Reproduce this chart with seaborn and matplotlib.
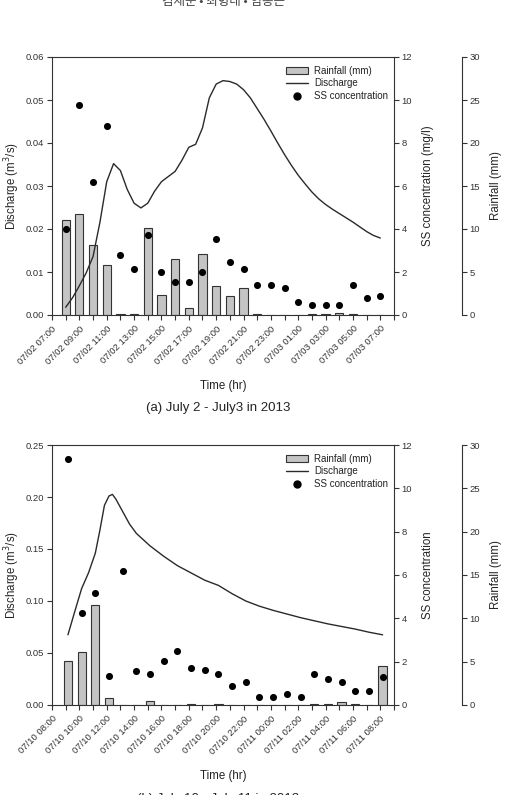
import matplotlib
matplotlib.use("Agg")
import matplotlib.pyplot as plt
import seaborn as sns
import pandas as pd
from matplotlib.patches import Patch
from matplotlib.lines import Line2D

# (a) July 2 - July 3, 2013 : hourly rainfall and SS, discharge every 30 min
a_start = "2013/07/02 07:00"
a_time = ["07/02 08:00", "07/02 09:00", "07/02 10:00", "07/02 11:00", "07/02 12:00",
          "07/02 13:00", "07/02 14:00", "07/02 15:00", "07/02 16:00", "07/02 17:00",
          "07/02 18:00", "07/02 19:00", "07/02 20:00", "07/02 21:00", "07/02 22:00",
          "07/02 23:00", "07/03 00:00", "07/03 01:00", "07/03 02:00", "07/03 03:00",
          "07/03 04:00", "07/03 05:00", "07/03 06:00", "07/03 07:00"]
a_rain = [11.1, 11.7, 8.1, 5.8, 0.1, 0.1, 10.1, 2.35, 6.55, 0.85, 7.1, 3.35,
          2.25, 3.1, 0.1, 0, 0, 0, 0.1, 0.1, 0.2, 0.15, 0, 0]
a_ss = [4.0, 9.78, 6.2, 8.8, 2.78, 2.16, 3.72, 2.0, 1.53, 1.53, 2.02, 3.55,
        2.45, 2.14, 1.41, 1.41, 1.26, 0.62, 0.48, 0.48, 0.48, 1.41, 0.79, 0.9]
a_q_time = pd.date_range("2013/07/02 08:00", "2013/07/03 07:00", freq="30min")
a_q = [0.0018, 0.0040, 0.0068, 0.0098, 0.0136, 0.0215, 0.0310, 0.0352, 0.0336,
       0.0292, 0.0260, 0.0249, 0.0260, 0.0288, 0.0310, 0.0322, 0.0334, 0.0360,
       0.0390, 0.0397, 0.0435, 0.0505, 0.0537, 0.0545, 0.0543, 0.0537, 0.0524,
       0.0505, 0.0480, 0.0455, 0.0428, 0.0400, 0.0373, 0.0348, 0.0325, 0.0305,
       0.0286, 0.0270, 0.0257, 0.0246, 0.0236, 0.0226, 0.0216, 0.0205, 0.0194,
       0.0185, 0.0179]
a_ticks = ["07/02 07:00", "07/02 09:00", "07/02 11:00", "07/02 13:00", "07/02 15:00",
           "07/02 17:00", "07/02 19:00", "07/02 21:00", "07/02 23:00", "07/03 01:00",
           "07/03 03:00", "07/03 05:00", "07/03 07:00"]

# (b) July 10 - July 11, 2013
b_start = "2013/07/10 08:00"
b_time = ["07/10 09:10", "07/10 10:10", "07/10 11:10", "07/10 12:10", "07/10 13:10",
          "07/10 14:10", "07/10 15:10", "07/10 16:10", "07/10 17:10", "07/10 18:10",
          "07/10 19:10", "07/10 20:10", "07/10 21:10", "07/10 22:10", "07/10 23:10",
          "07/11 00:10", "07/11 01:10", "07/11 02:10", "07/11 03:10", "07/11 04:10",
          "07/11 05:10", "07/11 06:10", "07/11 07:10", "07/11 08:10"]
b_rain = [5.1, 6.1, 11.5, 0.8, 0.05, 0, 0.43, 0.05, 0.05, 0.1, 0, 0.1,
          0, 0, 0, 0, 0, 0, 0.1, 0.1, 0.3, 0.1, 0, 4.5]
b_ss = [11.34, 4.26, 5.19, 1.33, 6.18, 1.56, 1.45, 2.02, 2.51, 1.73, 1.6, 1.42,
        0.9, 1.05, 0.38, 0.38, 0.52, 0.38, 1.44, 1.18, 1.04, 0.66, 0.66, 1.29]
b_q_time = ["07/10 09:10", "07/10 09:40", "07/10 10:10", "07/10 10:40", "07/10 11:10",
            "07/10 11:30", "07/10 11:50", "07/10 12:10", "07/10 12:25", "07/10 12:40",
            "07/10 13:10", "07/10 13:40", "07/10 14:10", "07/10 15:10", "07/10 16:10",
            "07/10 17:10", "07/10 18:10", "07/10 19:10", "07/10 20:10", "07/10 21:10",
            "07/10 22:10", "07/10 23:10", "07/11 00:10", "07/11 01:10", "07/11 02:10",
            "07/11 03:10", "07/11 04:10", "07/11 05:10", "07/11 06:10", "07/11 07:10",
            "07/11 08:10"]
b_q = [0.0675, 0.090, 0.112, 0.127, 0.146, 0.168, 0.192, 0.201, 0.2025, 0.198,
       0.186, 0.174, 0.165, 0.153, 0.143, 0.134, 0.127, 0.120, 0.115, 0.107,
       0.100, 0.095, 0.091, 0.0875, 0.084, 0.081, 0.078, 0.0755, 0.073, 0.070,
       0.0675]
b_ticks = ["07/10 08:00", "07/10 10:00", "07/10 12:00", "07/10 14:00", "07/10 16:00",
           "07/10 18:00", "07/10 20:00", "07/10 22:00", "07/11 00:00", "07/11 02:00",
           "07/11 04:00", "07/11 06:00", "07/11 08:00"]

sns.set_style("ticks")
plt.rcParams["font.family"] = ["Liberation Sans", "DejaVu Sans"]
plt.rcParams["axes.edgecolor"] = "#333333"
plt.rcParams["xtick.color"] = "#333333"
plt.rcParams["ytick.color"] = "#333333"
plt.rcParams["text.color"] = "#222222"

W, H = 506, 795
fig = plt.figure(figsize=(W / 100, H / 100), dpi=100)
BAR = "#c4c4c4"


def hours(t, start):
    t = pd.to_datetime(pd.Series(t).astype(str).radd("2013/") if isinstance(t[0], str) else pd.Series(t))
    return ((t - pd.Timestamp(start)) / pd.Timedelta(hours=1)).to_numpy()


def panel(top, bottom, start, t, rain, ss, qt, q, qmax, qstep, ss_lab, ticks, lab_y, cap, cap_y):
    l, r = 52, 394
    ax = fig.add_axes([l / W, 1 - bottom / H, (r - l) / W, (bottom - top) / H])
    ax_r = ax.twinx()
    ax_s = ax.twinx()
    ax_r.set_zorder(1)
    ax.set_zorder(2)
    ax_s.set_zorder(3)
    ax.patch.set_visible(False)

    h = hours(t, start)
    hq = hours(qt, start)
    sns.barplot(x=h, y=rain, native_scale=True, width=0.6, color=BAR, saturation=1,
                edgecolor="#333333", linewidth=0.8, errorbar=None, ax=ax_r)
    sns.lineplot(x=hq, y=q, color="#2a2a2a", linewidth=1.0, ax=ax)
    sns.scatterplot(x=h, y=ss, color="black", s=26, linewidth=0, ax=ax_s)

    ax.set_xlim(0, 25)
    ax.set_ylim(0, qmax)
    ax.set_yticks([i * qstep for i in range(int(round(qmax / qstep)) + 1)])
    ax.yaxis.set_major_formatter(matplotlib.ticker.FormatStrFormatter("%.2f"))
    ax.set_xticks(range(0, 25, 2))
    ax.set_xticklabels(ticks, rotation=45, ha="right", rotation_mode="anchor")
    ax.set_xticks(range(0, 26), minor=True)
    ax.set_xlabel("")
    ax.set_ylabel("Discharge (m$^3$/s)", fontsize=8.3)
    ax.yaxis.set_label_coords((12 - l) / (r - l), 0.5)

    ax_s.set_ylim(0, 12)
    ax_s.set_yticks(range(0, 13, 2))
    ax_s.set_ylabel(ss_lab, fontsize=8.3)
    ax_s.yaxis.set_label_coords((428 - l) / (r - l), 0.5)

    ax_r.set_xlim(0, 25)
    ax_r.set_ylim(0, 30)
    ax_r.set_yticks(range(0, 31, 5))
    ax_r.spines["right"].set_position(("axes", (462 - l) / (r - l)))
    ax_r.set_ylabel("Rainfall (mm)", fontsize=8.3)
    ax_r.yaxis.set_label_coords((496 - l) / (r - l), 0.5)

    for a in (ax, ax_r, ax_s):
        a.yaxis.label.set_verticalalignment("center")

    for a in (ax_r, ax_s):
        for s in ("left", "top", "bottom"):
            a.spines[s].set_visible(False)
    ax.spines["right"].set_visible(False)
    ax_r.spines["right"].set_bounds(0, 30)
    for a in (ax, ax_r, ax_s):
        for s in a.spines.values():
            s.set_linewidth(0.8)
        a.tick_params(axis="both", which="both", direction="out", length=3.5,
                      width=0.8, labelsize=6.8, pad=2)
    ax.tick_params(axis="x", which="major", pad=3)

    handles = [Patch(facecolor=BAR, edgecolor="#333333", linewidth=0.8),
               Line2D([], [], color="#2a2a2a", linewidth=1.0),
               Line2D([], [], color="black", marker="o", markersize=5, linestyle="none")]
    ax_s.legend(handles, ["Rainfall (mm)", "Discharge", "SS concentration"],
                loc="upper left", bbox_to_anchor=((286 - l) / (r - l), 1 - 8.5 / (bottom - top)),
                frameon=False, fontsize=7, borderpad=0, borderaxespad=0,
                handlelength=2.3, handletextpad=0.6, labelspacing=0.3)

    fig.text(223 / W, 1 - lab_y / H, "Time (hr)", ha="center", va="center", fontsize=8.3)
    fig.text(218 / W, 1 - cap_y / H, cap, ha="center", va="center", fontsize=9.5)


fig.text(224 / W, 1 - 2 / H, "김재운 • 최형태 • 임봉근", ha="center", va="center",
         fontsize=9, color="#444444", family=["Noto Sans CJK KR", "DejaVu Sans"])

panel(57, 315, a_start, a_time, a_rain, a_ss, a_q_time, a_q, 0.06, 0.01,
      "SS concentration (mg/l)", a_ticks, 386, "(a) July 2 - July3 in 2013", 408)
panel(445, 705, b_start, b_time, b_rain, b_ss, b_q_time, b_q, 0.25, 0.05,
      "SS concentration", b_ticks, 776, "(b) July 10 - July 11 in 2013", 799)

fig.savefig("out.png", dpi=100, facecolor="white")
